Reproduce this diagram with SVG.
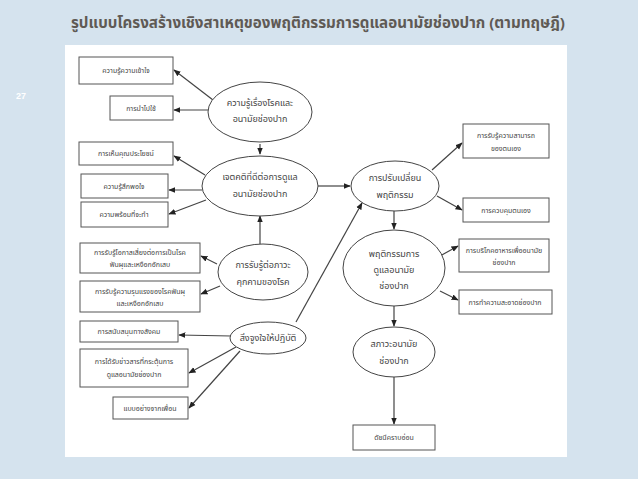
<svg xmlns="http://www.w3.org/2000/svg" width="638" height="479" viewBox="0 0 638 479">
<style>
.b{fill:#fff;stroke:#555;stroke-width:1}
.e{fill:#fff;stroke:#444;stroke-width:1}
.t{font-family:"Noto Sans Thai","Noto Sans","DejaVu Sans",sans-serif;font-size:7px;fill:#444;text-anchor:middle}
.te{font-family:"Noto Sans Thai","Noto Sans","DejaVu Sans",sans-serif;font-size:9px;fill:#444;text-anchor:middle}
#c line{stroke:#444;stroke-width:1.2;marker-end:url(#a)}
</style>
<defs><marker id="a" viewBox="0 0 10 10" refX="9" refY="5" markerWidth="6" markerHeight="6" orient="auto"><path d="M0 1L10 5L0 9z" fill="#222"/></marker></defs>
<rect width="638" height="479" fill="#d5e3ee"/>
<rect x="65" y="45" width="502" height="412" fill="#fff"/>
<text x="318" y="28" font-family="'Noto Sans Thai','Noto Sans','DejaVu Sans',sans-serif" font-size="15" font-weight="bold" fill="#5f5a55" text-anchor="middle" textLength="494" lengthAdjust="spacingAndGlyphs">รูปแบบโครงสร้างเชิงสาเหตุของพฤติกรรมการดูแลอนามัยช่องปาก (ตามทฤษฎี)</text>
<text x="16" y="99" font-family="'Liberation Sans',sans-serif" font-size="9" font-weight="bold" fill="#fff">27</text>
<g id="c">
<line x1="213" y1="100" x2="174" y2="70"/>
<line x1="208" y1="110" x2="174" y2="110"/>
<line x1="260" y1="144" x2="260" y2="154"/>
<line x1="205" y1="175" x2="174" y2="156"/>
<line x1="202" y1="190" x2="169" y2="190"/>
<line x1="206" y1="200" x2="169" y2="214"/>
<line x1="260" y1="244" x2="260" y2="216"/>
<line x1="318" y1="186" x2="350" y2="186"/>
<line x1="217" y1="264" x2="201" y2="256"/>
<line x1="220" y1="286" x2="201" y2="294"/>
<line x1="231" y1="336" x2="179" y2="335"/>
<line x1="236" y1="347" x2="189" y2="373"/>
<line x1="240" y1="351" x2="189" y2="408"/>
<line x1="296" y1="322" x2="362" y2="203"/>
<line x1="432" y1="170" x2="462" y2="143"/>
<line x1="437" y1="196" x2="462" y2="210"/>
<line x1="394" y1="211" x2="394" y2="229"/>
<line x1="440" y1="256" x2="458" y2="246"/>
<line x1="440" y1="291" x2="458" y2="300"/>
<line x1="394" y1="306" x2="394" y2="326"/>
<line x1="394" y1="377" x2="394" y2="424"/>
</g>
<g id="n1"><rect class="b" x="79" y="57" width="94" height="27"/><text class="t" x="126" y="73">ความรู้ความเข้าใจ</text></g>
<g id="n2"><rect class="b" x="110" y="96" width="63" height="24"/><text class="t" x="141" y="111">การนำไปใช้</text></g>
<g id="n3"><ellipse class="e" cx="260" cy="112" rx="52" ry="30"/><text class="te" x="260" y="106">ความรู้เรื่องโรคและ</text><text class="te" x="260" y="122">อนามัยช่องปาก</text></g>
<g id="n4"><rect class="b" x="79" y="142" width="94" height="23"/><text class="t" x="126" y="156">การเห็นคุณประโยชน์</text></g>
<g id="n5"><rect class="b" x="81" y="174" width="87" height="24"/><text class="t" x="124" y="189">ความรู้สึกพอใจ</text></g>
<g id="n6"><rect class="b" x="81" y="202" width="87" height="25"/><text class="t" x="124" y="217">ความพร้อมที่จะทำ</text></g>
<g id="n7"><ellipse class="e" cx="260" cy="186" rx="58" ry="30"/><text class="te" x="260" y="180">เจตคติที่ดีต่อการดูแล</text><text class="te" x="260" y="197">อนามัยช่องปาก</text></g>
<g id="n8"><rect class="b" x="80" y="243" width="120" height="30"/><text class="t" x="140" y="255">การรับรู้โอกาสเสี่ยงต่อการเป็นโรค</text><text class="t" x="140" y="267">ฟันผุและเหงือกอักเสบ</text></g>
<g id="n9"><rect class="b" x="80" y="281" width="120" height="31"/><text class="t" x="140" y="294">การรับรู้ความรุนแรงของโรคฟันผุ</text><text class="t" x="140" y="306">และเหงือกอักเสบ</text></g>
<g id="n10"><ellipse class="e" cx="263" cy="272" rx="45" ry="28"/><text class="te" x="263" y="268">การรับรู้ต่อภาวะ</text><text class="te" x="263" y="285">คุกคามของโรค</text></g>
<g id="n11"><rect class="b" x="80" y="321" width="98" height="21"/><text class="t" x="129" y="334">การสนับสนุนทางสังคม</text></g>
<g id="n12"><ellipse class="e" cx="268" cy="338" rx="38" ry="16"/><text class="te" x="268" y="341">สิ่งจูงใจให้ปฏิบัติ</text></g>
<g id="n13"><rect class="b" x="80" y="349" width="108" height="38"/><text class="t" x="134" y="364">การได้รับข่าวสารที่กระตุ้นการ</text><text class="t" x="134" y="377">ดูแลอนามัยช่องปาก</text></g>
<g id="n14"><rect class="b" x="113" y="397" width="75" height="22"/><text class="t" x="150" y="411">แบบอย่างจากเพื่อน</text></g>
<g id="n15"><ellipse class="e" cx="395" cy="186" rx="44" ry="25"/><text class="te" x="395" y="181">การปรับเปลี่ยน</text><text class="te" x="395" y="198">พฤติกรรม</text></g>
<g id="n16"><rect class="b" x="463" y="124" width="86" height="34"/><text class="t" x="506" y="138">การรับรู้ความสามารถ</text><text class="t" x="506" y="151">ของตนเอง</text></g>
<g id="n17"><rect class="b" x="463" y="198" width="86" height="24"/><text class="t" x="506" y="213">การควบคุมตนเอง</text></g>
<g id="n18"><ellipse class="e" cx="394" cy="268" rx="51" ry="38"/><text class="te" x="394" y="257">พฤติกรรมการ</text><text class="te" x="394" y="273">ดูแลอนามัย</text><text class="te" x="394" y="289">ช่องปาก</text></g>
<g id="n19"><rect class="b" x="459" y="239" width="90" height="33"/><text class="t" x="504" y="253">การบริโภคอาหารเพื่ออนามัย</text><text class="t" x="504" y="265">ช่องปาก</text></g>
<g id="n20"><rect class="b" x="459" y="290" width="93" height="24"/><text class="t" x="505" y="305">การทำความสะอาดช่องปาก</text></g>
<g id="n21"><ellipse class="e" cx="394" cy="352" rx="41" ry="25"/><text class="te" x="394" y="347">สภาวะอนามัย</text><text class="te" x="394" y="364">ช่องปาก</text></g>
<g id="n22"><rect class="b" x="353" y="425" width="82" height="25"/><text class="t" x="394" y="440">ดัชนีคราบอ่อน</text></g>
</svg>
